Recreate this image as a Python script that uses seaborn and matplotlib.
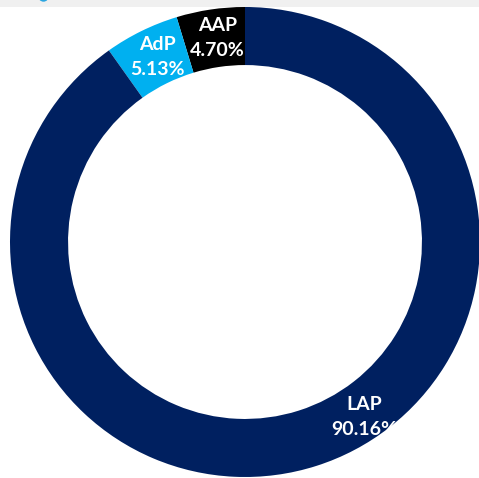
import numpy as np
import matplotlib
matplotlib.use("Agg")
import matplotlib.pyplot as plt
from matplotlib.patches import Rectangle, Circle
import seaborn as sns

# Share of each category (percent), in drawing order from 12 o'clock counter-clockwise
categories = ["AAP", "AdP", "LAP"]
shares = [4.70, 5.13, 90.16]
colors = ["#000000", "#00B0F0", "#002060"]

sns.set_theme(style="white")
plt.rcParams["font.family"] = ["Lato", "DejaVu Sans"]

W, H = 479, 478
fig = plt.figure(figsize=(W / 100, H / 100), dpi=100)
ax = fig.add_axes([0, 0, 1, 1])

cx, cy = 245, H - 242
R = 235
ring = 0.247

wedges, _ = ax.pie(
    shares,
    colors=colors,
    startangle=90,
    counterclock=True,
    radius=R,
    center=(cx, cy),
    wedgeprops=dict(width=R * ring, linewidth=0),
    frame=True,
)
ax.set_xlim(0, W)
ax.set_ylim(0, H)
ax.set_aspect("equal")
ax.axis("off")

# Label placement: middle of the ring; the large slice is labelled lower-right
label_r = [R * (1 - ring / 2)] * 3
angles = []
start = 90.0
for s in shares:
    span = s / 100 * 360
    angles.append(start + span / 2)
    start += span
angles[2] = 303.5
label_r[2] = 210

for name, val, ang, r in zip(categories, shares, angles, label_r):
    t = np.deg2rad(ang)
    x = cx + r * np.cos(t)
    y = cy + r * np.sin(t)
    ax.text(x + 3, y, f"{name}\n{val:.2f}%", color="white", ha="center",
            va="center", fontsize=14, fontweight="bold", linespacing=1.55)

# Top strip with the edge of an icon
ax.add_patch(Rectangle((0, H - 7), W, 7, color="#F0F0F0", zorder=5, linewidth=0))
ax.add_patch(Circle((43.5, H + 3.5), 5.2, color="#2CA6E0", zorder=6, linewidth=0))

fig.savefig("out.png", dpi=100)
